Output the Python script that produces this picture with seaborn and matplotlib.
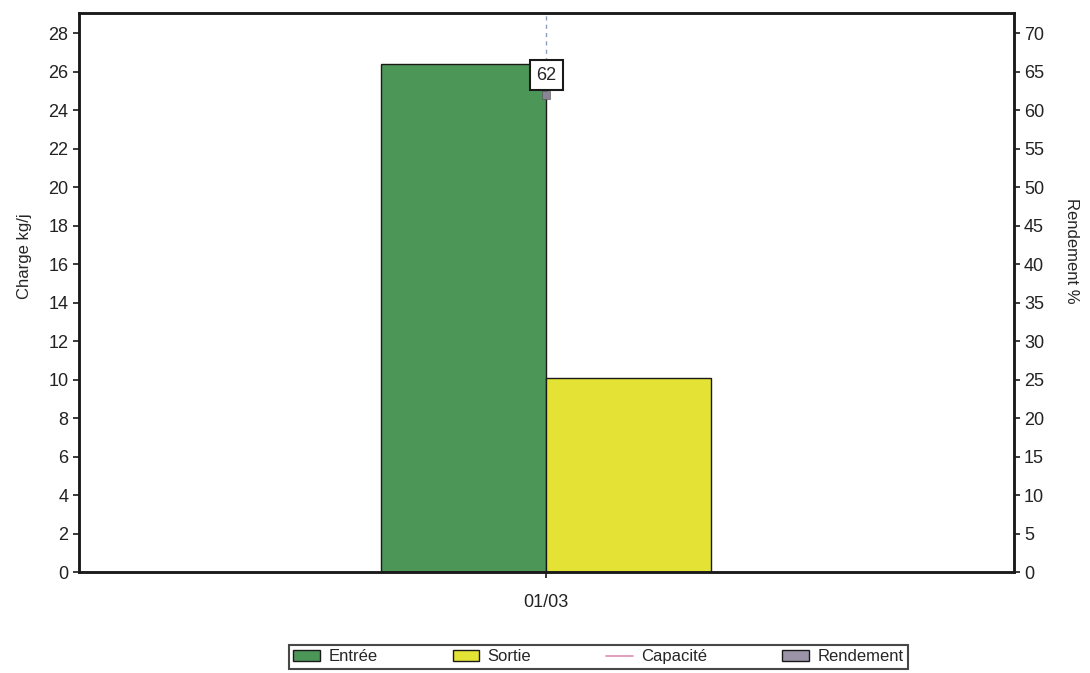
import pandas as pd
import matplotlib.pyplot as plt
import seaborn as sns
from matplotlib.lines import Line2D
from matplotlib.patches import Patch

# Données
dates = ["01/03"]
entree = [26.4]
sortie = [10.1]
rendement = [62]

couleurs = {"Entrée": "#4c9658", "Sortie": "#e4e234"}

sns.set_theme(style="white")
plt.rcParams["font.family"] = ["Liberation Sans", "DejaVu Sans"]

df = pd.DataFrame({
    "date": dates * 2,
    "serie": ["Entrée"] * len(dates) + ["Sortie"] * len(dates),
    "charge": entree + sortie,
})

fig = plt.figure(figsize=(10.9, 6.73), dpi=100)
ax = fig.add_axes([0.0725, 0.150, 0.8575, 0.831])

sns.barplot(data=df, x="date", y="charge", hue="serie", palette=couleurs,
            width=0.353, edgecolor="#1a1a1a", linewidth=1.0, saturation=1,
            legend=False, ax=ax)

ax.set_xlim(-0.5, 0.5)
ax.set_ylim(0, 29.05)
ax.set_yticks(range(0, 29, 2))
ax.set_ylabel("Charge kg/j", fontsize=12)
ax.yaxis.set_label_coords(-0.05, 0.565)
ax.set_xlabel("")
ax.tick_params(axis="both", labelsize=13, length=4, direction="out",
               left=True, bottom=True, colors="#222222")
ax.tick_params(axis="x", pad=12)
for s in ax.spines.values():
    s.set_color("#1a1a1a")
    s.set_linewidth(1.8)

# axe secondaire : rendement
ax2 = ax.twinx()
ax2.set_ylim(0, 29.05 * 2.5)
ax2.set_yticks(range(0, 71, 5))
ax2.set_ylabel("Rendement %", fontsize=12, rotation=270, va="center")
ax2.yaxis.set_label_coords(1.062, 0.575)
ax2.tick_params(axis="y", labelsize=13, length=4, right=True, colors="#222222")
for s in ax2.spines.values():
    s.set_color("#1a1a1a")
    s.set_linewidth(1.8)

sns.scatterplot(x=[0] * len(dates), y=rendement, marker="s", s=30,
                color="#8a8496", edgecolor="#555555", ax=ax2, zorder=5)
for i, r in enumerate(rendement):
    ax2.vlines(i, r, 72.6, color="#8aa0b8", linestyle=(0, (3, 3)), linewidth=1)
    ax2.annotate(f"{r}", (i, r), xytext=(0, 14), textcoords="offset points",
                 ha="center", va="center", fontsize=13,
                 bbox=dict(boxstyle="square,pad=0.35", fc="white", ec="#1a1a1a", lw=1.5))

handles = [
    Patch(facecolor=couleurs["Entrée"], edgecolor="#1a1a1a", label="Entrée"),
    Patch(facecolor=couleurs["Sortie"], edgecolor="#1a1a1a", label="Sortie"),
    Line2D([0], [0], color="#d98fb0", lw=1.2, label="Capacité"),
    Patch(facecolor="#9a94a6", edgecolor="#1a1a1a", label="Rendement"),
]
leg = fig.legend(handles=handles, loc="center", bbox_to_anchor=(0.549, 0.024),
                 ncol=4, frameon=True, fancybox=False, fontsize=12,
                 columnspacing=4.5, handlelength=1.6, handletextpad=0.5,
                 borderpad=0.25)
leg.get_frame().set_edgecolor("#1a1a1a")
leg.get_frame().set_linewidth(1.5)

fig.savefig("out.png", dpi=100)
